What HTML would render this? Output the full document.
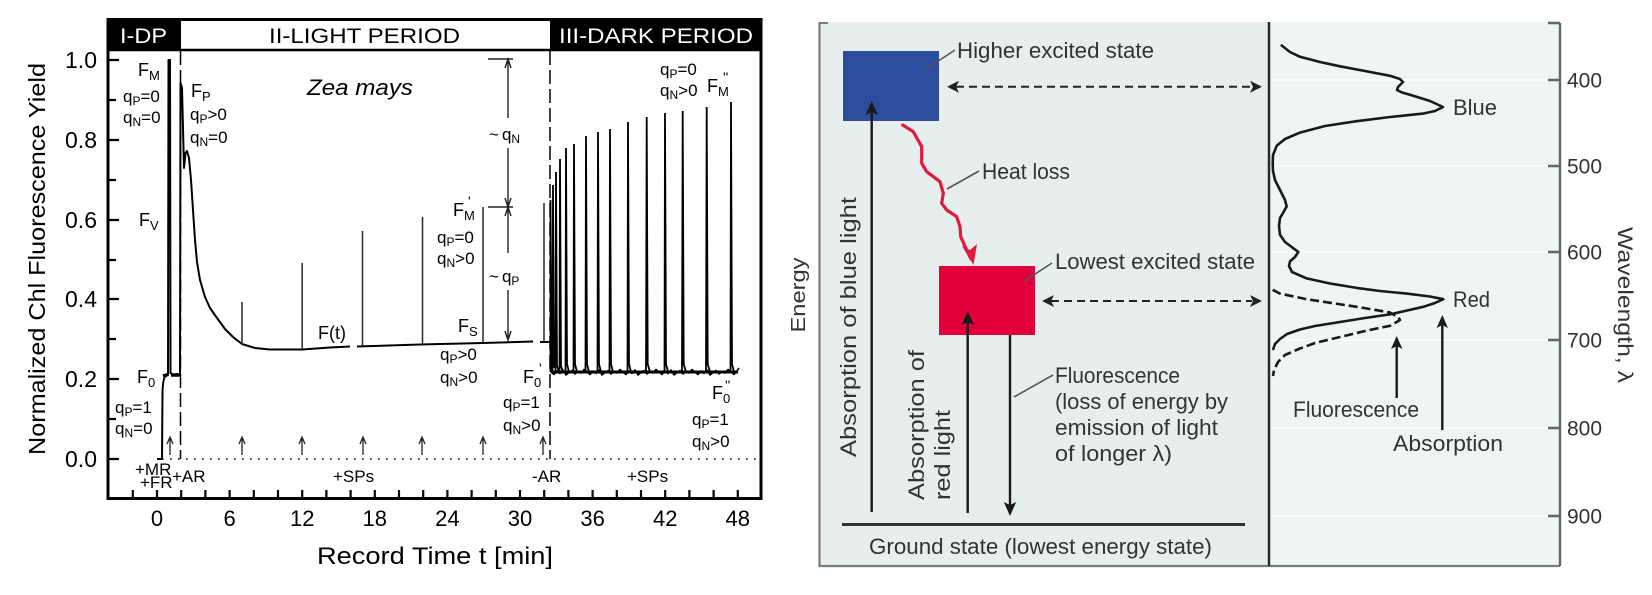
<!DOCTYPE html>
<html><head><meta charset="utf-8">
<style>html,body{margin:0;padding:0;background:#fff;}svg{display:block;}</style>
</head><body>
<svg width="1652" height="595" viewBox="0 0 1652 595" xmlns="http://www.w3.org/2000/svg" font-family="'Liberation Sans', Arial, sans-serif">
<rect width="1652" height="595" fill="#fff"/>

<!-- ================= LEFT CHART ================= -->
<g>
<rect x="108" y="19.5" width="73" height="31" fill="#000"/>
<rect x="550" y="19.5" width="211" height="31" fill="#000"/>
<rect x="108" y="19.5" width="653" height="479" fill="none" stroke="#000" stroke-width="3"/>
<line x1="108" y1="50" x2="761" y2="50" stroke="#000" stroke-width="2.5"/>
<text x="120" y="43" font-size="21" fill="#fff" textLength="47" lengthAdjust="spacingAndGlyphs">I-DP</text>
<text x="269" y="43" font-size="21" textLength="191" lengthAdjust="spacingAndGlyphs">II-LIGHT PERIOD</text>
<text x="559" y="43" font-size="21" fill="#fff" textLength="194" lengthAdjust="spacingAndGlyphs">III-DARK PERIOD</text>

<!-- dashed period separators -->
<line x1="180.5" y1="51" x2="180.5" y2="459" stroke="#000" stroke-width="1.5" stroke-dasharray="14 5"/>
<line x1="550" y1="51" x2="550" y2="459" stroke="#000" stroke-width="1.5" stroke-dasharray="14 5"/>

<!-- dotted zero line -->
<line x1="162" y1="459" x2="758" y2="459" stroke="#000" stroke-width="1.6" stroke-dasharray="1.6 6.4"/>

<!-- y ticks -->
<path d="M108,60h11 M108,140h11 M108,220h11 M108,299h11 M108,379h11 M108,459h11 M108,100h8 M108,180h8 M108,260h8 M108,339h8 M108,419h8" stroke="#000" stroke-width="2.2"/>
<!-- x ticks -->
<path d="M132.8,498v-8 M157,498v-8 M181.2,498v-8 M205.4,498v-8 M229.6,498v-8 M253.8,498v-8 M278,498v-8 M302.2,498v-8 M326.4,498v-8 M350.6,498v-8 M374.8,498v-8 M399,498v-8 M423.2,498v-8 M447.4,498v-8 M471.6,498v-8 M495.8,498v-8 M520,498v-8 M544.2,498v-8 M568.4,498v-8 M592.6,498v-8 M616.8,498v-8 M641,498v-8 M665.2,498v-8 M689.4,498v-8 M713.6,498v-8 M737.8,498v-8" stroke="#000" stroke-width="2.2"/>

<!-- y labels -->
<g font-size="23" text-anchor="end">
<text x="97" y="68">1.0</text>
<text x="97" y="148">0.8</text>
<text x="97" y="228">0.6</text>
<text x="97" y="307">0.4</text>
<text x="97" y="387">0.2</text>
<text x="97" y="467">0.0</text>
</g>
<!-- x labels -->
<g font-size="22" text-anchor="middle">
<text x="157" y="526">0</text>
<text x="229.6" y="526">6</text>
<text x="302.2" y="526">12</text>
<text x="374.8" y="526">18</text>
<text x="447.4" y="526">24</text>
<text x="520" y="526">30</text>
<text x="592.6" y="526">36</text>
<text x="665.2" y="526">42</text>
<text x="737.8" y="526">48</text>
</g>
<text x="435" y="564" font-size="24" text-anchor="middle" textLength="236" lengthAdjust="spacingAndGlyphs">Record Time t [min]</text>
<text transform="translate(45,259) rotate(-90)" font-size="23" text-anchor="middle" textLength="392" lengthAdjust="spacingAndGlyphs">Normalized Chl Fluorescence Yield</text>

<!-- main trace light period -->
<path d="M157,459 L162,459 L162.5,392 Q163,377 166,376 L168,375 L168.5,60 L170,60 L170.5,373 L174,375.5 L177,374 L180,375 L180.5,83 L182,88 L184,168 L185.5,153 L187,151 L189,158 L191,180 L193,210 L195,240 L197,262 L200,280 L205,297 L210,308 L217,318 L225,329 L233,337 L242,344 L255,348 L270,349.5 L302,349.5 L330,347.5 L350,346.5 M357,346.5 L420,344.5 L483,343 L533,341.5 M540,342 L549,342 L550.5,341" fill="none" stroke="#000" stroke-width="2" stroke-linejoin="round"/>
<path d="M163,376 L168,374.5 M171,375 L180,375" stroke="#000" stroke-width="3.5"/>
<!-- light-period saturation pulses -->
<path d="M242,345 V302 M302.2,349 V263 M362.5,346 V231 M422.5,344.5 V217 M483,343 V207 M544,342 V203" stroke="#333" stroke-width="1.6"/>

<!-- dark period trace -->
<path d="M550.5,342 L551,372 L554,374.5 L557,371 L560,373.5 L563,370 L566,375 L569,372.5 L572,370.5 L575,374 L578,371.5 L581,373 L584,369.5 L587,372 L590,374.5 L593,371 L596,373.5 L599,370 L602,375 L605,372.5 L608,370.5 L611,374 L614,371.5 L617,373 L620,369.5 L623,372 L626,374.5 L629,371 L632,373.5 L635,370 L638,375 L641,372.5 L644,370.5 L647,374 L650,371.5 L653,373 L656,369.5 L659,372 L662,374.5 L665,371 L668,373.5 L671,370 L674,375 L677,372.5 L680,370.5 L683,374 L686,371.5 L689,373 L692,369.5 L695,372 L698,374.5 L701,371 L704,373.5 L707,370 L710,375 L713,372.5 L716,370.5 L719,374 L722,371.5 L725,373 L728,369.5 L731,372 L734,374.5 L737,371 L739,368" fill="none" stroke="#000" stroke-width="1.6" stroke-linejoin="round"/>
<line x1="551" y1="372" x2="738" y2="372" stroke="#000" stroke-width="3"/>
<path d="M550.5,372 L550.5,200 L551.5,372 M552.5,372 L553,185 L554,368 M555.5,372 L556,172 L557,366 L559,372 M559.5,372 L560,159 L561,366 L563,372 M565.5,372 L566,148 L567,364 L569,372 M573.5,372 L574,144 L575,364 L577,372 M585.5,372 L586,136 L587,364 L589,372 M597.5,372 L598,132 L599,364 L601,372 M609.5,372 L610,129 L611,364 L613,372 M627.5,372 L628,122 L629,364 L631,372 M646,372 L646.7,117 L647.7,364 L650,372 M664.5,372 L665,113 L666,364 L668,372 M682,372 L682.7,111 L683.7,364 L686,372 M706,372 L706.7,107 L707.7,364 L710,372 M730.5,372 L731,102 L732,364 L734,372" fill="none" stroke="#000" stroke-width="1.8"/>

<!-- SP arrows at baseline -->
<g stroke="#222" stroke-width="1.3" fill="none">
<path d="M170,455V437 M167,444L170,437L173,444"/>
<path d="M242,455V437 M239,444L242,437L245,444"/>
<path d="M302,455V437 M299,444L302,437L305,444"/>
<path d="M363,455V437 M360,444L363,437L366,444"/>
<path d="M422,455V437 M419,444L422,437L425,444"/>
<path d="M483,455V437 M480,444L483,437L486,444"/>
<path d="M543,455V437 M540,444L543,437L546,444"/>
</g>

<!-- qN / qP dimension arrows -->
<g stroke="#222" stroke-width="1.4" fill="none">
<path d="M488,59H513 M508,59V118 M508,148V207 M505,68L508,59L511,68 M505,198L508,207L511,198 M488,207H513 M505,216L508,207L511,216 M508,207V253 M508,290V340 M505,331L508,340L511,331"/>
</g>

<!-- annotations -->
<g font-size="17" fill="#000">
<text x="138" y="76" font-size="18">F<tspan font-size="13" dy="4">M</tspan></text>
<text x="123" y="102">q<tspan font-size="12" dy="3">P</tspan><tspan dy="-3">=0</tspan></text>
<text x="123" y="123">q<tspan font-size="12" dy="3">N</tspan><tspan dy="-3">=0</tspan></text>
<text x="139" y="226" font-size="18">F<tspan font-size="13" dy="4">V</tspan></text>

<text x="191" y="97" font-size="18">F<tspan font-size="13" dy="4">P</tspan></text>
<text x="190" y="120">q<tspan font-size="12" dy="3">P</tspan><tspan dy="-3">&gt;0</tspan></text>
<text x="190" y="143">q<tspan font-size="12" dy="3">N</tspan><tspan dy="-3">=0</tspan></text>

<text x="307" y="95" font-size="22" font-style="italic" textLength="106" lengthAdjust="spacingAndGlyphs">Zea mays</text>

<text x="489" y="140">~<tspan dx="3">q</tspan><tspan font-size="12" dy="3">N</tspan></text>
<text x="489" y="282">~<tspan dx="3">q</tspan><tspan font-size="12" dy="3">P</tspan></text>

<text x="453" y="216" font-size="18">F<tspan font-size="13" dy="4">M</tspan></text>
<text x="468" y="206" font-size="14">'</text>
<text x="437" y="243">q<tspan font-size="12" dy="3">P</tspan><tspan dy="-3">=0</tspan></text>
<text x="437" y="264">q<tspan font-size="12" dy="3">N</tspan><tspan dy="-3">&gt;0</tspan></text>

<text x="318" y="339" font-size="18">F(t)</text>
<text x="458" y="332" font-size="18">F<tspan font-size="13" dy="4">S</tspan></text>
<text x="440" y="360">q<tspan font-size="12" dy="3">P</tspan><tspan dy="-3">&gt;0</tspan></text>
<text x="440" y="383">q<tspan font-size="12" dy="3">N</tspan><tspan dy="-3">&gt;0</tspan></text>

<text x="523" y="383" font-size="18">F<tspan font-size="13" dy="4">0</tspan></text>
<text x="539" y="373" font-size="14">'</text>
<text x="503" y="408">q<tspan font-size="12" dy="3">P</tspan><tspan dy="-3">=1</tspan></text>
<text x="503" y="431">q<tspan font-size="12" dy="3">N</tspan><tspan dy="-3">&gt;0</tspan></text>

<text x="137" y="383" font-size="18">F<tspan font-size="13" dy="4">0</tspan></text>
<text x="115" y="413">q<tspan font-size="12" dy="3">P</tspan><tspan dy="-3">=1</tspan></text>
<text x="115" y="434">q<tspan font-size="12" dy="3">N</tspan><tspan dy="-3">=0</tspan></text>

<text x="660" y="75">q<tspan font-size="12" dy="3">P</tspan><tspan dy="-3">=0</tspan></text>
<text x="660" y="96">q<tspan font-size="12" dy="3">N</tspan><tspan dy="-3">&gt;0</tspan></text>
<text x="707" y="92" font-size="18">F<tspan font-size="13" dy="4">M</tspan></text>
<text x="723" y="82" font-size="14">''</text>

<text x="712" y="399" font-size="18">F<tspan font-size="13" dy="4">0</tspan></text>
<text x="725" y="390" font-size="14">''</text>
<text x="692" y="425">q<tspan font-size="12" dy="3">P</tspan><tspan dy="-3">=1</tspan></text>
<text x="692" y="447">q<tspan font-size="12" dy="3">N</tspan><tspan dy="-3">&gt;0</tspan></text>

<text x="135" y="475">+MR</text>
<text x="140" y="488">+FR</text>
<text x="172" y="482">+AR</text>
<text x="333" y="482">+SPs</text>
<text x="532" y="482">-AR</text>
<text x="627" y="482">+SPs</text>
</g>
</g>

<!-- ================= RIGHT DIAGRAM ================= -->
<g>
<rect x="820" y="22" width="449" height="544" fill="#e6efed"/>
<rect x="1269" y="22" width="291" height="544" fill="#eef5f4"/>
<path d="M1271,80H1548 M1271,166H1548 M1271,252H1548 M1271,340H1548 M1271,428H1548 M1271,516H1548" stroke="#fbfdfd" stroke-width="1.6"/>
<path d="M819.5,22 V566 H1560" fill="none" stroke="#7b7b7b" stroke-width="2.2"/>
<path d="M819.5,23 H828" stroke="#7b7b7b" stroke-width="2"/>
<path d="M1560,23 V566 M1548,23 H1560 M1548,80H1560 M1548,166H1560 M1548,252H1560 M1548,340H1560 M1548,428H1560 M1548,516H1560" fill="none" stroke="#666" stroke-width="2.4"/>
<line x1="1269" y1="22" x2="1269" y2="566" stroke="#2a2a2a" stroke-width="2.5"/>

<!-- tick labels -->
<g font-size="21" fill="#333">
<text x="1567" y="87.5" textLength="35" lengthAdjust="spacingAndGlyphs">400</text>
<text x="1567" y="173.5" textLength="35" lengthAdjust="spacingAndGlyphs">500</text>
<text x="1567" y="259.5" textLength="35" lengthAdjust="spacingAndGlyphs">600</text>
<text x="1567" y="347.5" textLength="35" lengthAdjust="spacingAndGlyphs">700</text>
<text x="1567" y="435.5" textLength="35" lengthAdjust="spacingAndGlyphs">800</text>
<text x="1567" y="523.5" textLength="35" lengthAdjust="spacingAndGlyphs">900</text>
</g>
<text transform="translate(1618,305) rotate(90)" font-size="21" fill="#333" text-anchor="middle" textLength="156" lengthAdjust="spacingAndGlyphs">Wavelength, λ</text>
<text transform="translate(805,295) rotate(-90)" font-size="20" fill="#333" text-anchor="middle" textLength="75" lengthAdjust="spacingAndGlyphs">Energy</text>

<!-- energy boxes -->
<rect x="843" y="51" width="96" height="70" fill="#2c4d9e"/>
<rect x="939" y="266" width="96" height="69" fill="#e1003b"/>

<!-- heat loss wave -->
<path d="M902.7,125 L913.3,131.7 L921.7,146.7 L921.7,163.3 L926.7,171.7 L940,181.7 L943.3,193.3 L941.7,203.3 L946.7,210 L956.7,216.7 L960,226.7 L960.7,236.7 L966.7,250 L971,259" fill="none" stroke="#e0193f" stroke-width="3.2" stroke-linejoin="round" stroke-linecap="round"/>
<polygon points="962,246 973.5,265 977,244 970,250" fill="#e0193f"/>

<!-- leader lines -->
<path d="M926,69 L955,50 M947,189 L979,171 M1023,282 L1052,263 M1014,397 L1053,375" stroke="#555" stroke-width="1.6" fill="none"/>

<!-- labels -->
<g font-size="22" fill="#333">
<text x="957" y="58" textLength="197" lengthAdjust="spacingAndGlyphs">Higher excited state</text>
<text x="982" y="179" textLength="88" lengthAdjust="spacingAndGlyphs">Heat loss</text>
<text x="1055" y="269" textLength="200" lengthAdjust="spacingAndGlyphs">Lowest excited state</text>
<text x="1055" y="383" textLength="125" lengthAdjust="spacingAndGlyphs">Fluorescence</text>
<text x="1055" y="409" textLength="173" lengthAdjust="spacingAndGlyphs">(loss of energy by</text>
<text x="1055" y="435" textLength="163" lengthAdjust="spacingAndGlyphs">emission of light</text>
<text x="1055" y="461" textLength="117" lengthAdjust="spacingAndGlyphs">of longer λ)</text>
<text x="869" y="554" textLength="343" lengthAdjust="spacingAndGlyphs">Ground state (lowest energy state)</text>
<text transform="translate(856,327) rotate(-90)" text-anchor="middle" textLength="260" lengthAdjust="spacingAndGlyphs">Absorption of blue light</text>
<text transform="translate(924,500) rotate(-90)" textLength="150" lengthAdjust="spacingAndGlyphs">Absorption of</text>
<text transform="translate(950,500) rotate(-90)" textLength="90" lengthAdjust="spacingAndGlyphs">red light</text>
<text x="1453" y="115" textLength="44" lengthAdjust="spacingAndGlyphs">Blue</text>
<text x="1453" y="307" textLength="37" lengthAdjust="spacingAndGlyphs">Red</text>
<text x="1293" y="417" textLength="126" lengthAdjust="spacingAndGlyphs">Fluorescence</text>
<text x="1393" y="451" textLength="110" lengthAdjust="spacingAndGlyphs">Absorption</text>
</g>

<!-- ground line -->
<line x1="842" y1="524.5" x2="1245" y2="524.5" stroke="#333" stroke-width="3"/>

<!-- vertical arrows -->
<g stroke="#1a1a1a" stroke-width="2.4" fill="none">
<line x1="871.7" y1="512" x2="871.7" y2="110"/>
<line x1="967.7" y1="513" x2="967.7" y2="320"/>
<line x1="1010" y1="335" x2="1010" y2="506"/>
<line x1="1396.7" y1="398" x2="1396.7" y2="345"/>
<line x1="1442.3" y1="430" x2="1442.3" y2="324"/>
</g>
<g fill="#1a1a1a">
<polygon points="871.7,101 865.5,115 871.7,112 877.9,115"/>
<polygon points="967.7,311 961.5,325 967.7,322 973.9,325"/>
<polygon points="1010,516 1003.8,502 1010,505 1016.2,502"/>
<polygon points="1396.7,336 1391,349 1396.7,346 1402.4,349"/>
<polygon points="1442.3,315 1436.6,328 1442.3,325 1448,328"/>
</g>

<!-- dashed arrows -->
<g stroke="#222" stroke-width="2" stroke-dasharray="8 5" fill="none">
<line x1="956" y1="86.7" x2="1252" y2="86.7"/>
<line x1="1051" y1="301" x2="1252" y2="301"/>
</g>
<g fill="#222">
<polygon points="947,86.7 959,80.7 956,86.7 959,92.7"/>
<polygon points="1262,86.7 1250,80.7 1253,86.7 1250,92.7"/>
<polygon points="1042,301 1054,295 1051,301 1054,307"/>
<polygon points="1262,301 1250,295 1253,301 1250,307"/>
</g>

<!-- absorption spectrum (solid) -->
<path d="M1281.7,45.5 L1290,52 L1300,56.8 L1320,62 L1340,66.3 L1365,71 L1390,75.8 L1400,79 L1403,82 L1398,87 L1397,90 L1402,92.5 L1410,94.7 L1430,101 L1443,107 L1435,111 L1423,113.6 L1390,117 L1356.7,121.2 L1325,126 L1300,132.6 L1285,139 L1276.7,145.8 L1273,155 L1272.7,162.9 L1273,171 L1275,180 L1280,190 L1285,200 L1286.7,206.4 L1283,213 L1280,218 L1279,226 L1280,234.8 L1285,242 L1293,248 L1298.3,251.9 L1295,257 L1290,261.4 L1289,266 L1292,272 L1306.7,278.4 L1330,283.5 L1356.7,287.9 L1380,291 L1406.7,293.6 L1430,296.5 L1443.3,299.2 L1435,303 L1423.3,306.8 L1390,314.4 L1365,318 L1340,322 L1315,326 L1300,329.5 L1287,334 L1280,339 L1275,344 L1273.3,349" fill="none" stroke="#1a1a1a" stroke-width="2.6" stroke-linejoin="round" stroke-linecap="round"/>
<!-- fluorescence spectrum (dashed) -->
<path d="M1272.7,289.8 L1280,293.6 L1306.7,299.2 L1356.7,306.8 L1390,312.5 L1398,317 L1400,320 L1395,323 L1390,325.8 L1365,331 L1340,337 L1315,343 L1300,348.5 L1285,355 L1278,362 L1274,370 L1273,376" fill="none" stroke="#1a1a1a" stroke-width="2.6" stroke-dasharray="9 4" stroke-linejoin="round"/>
</g>
</svg>
</body></html>
